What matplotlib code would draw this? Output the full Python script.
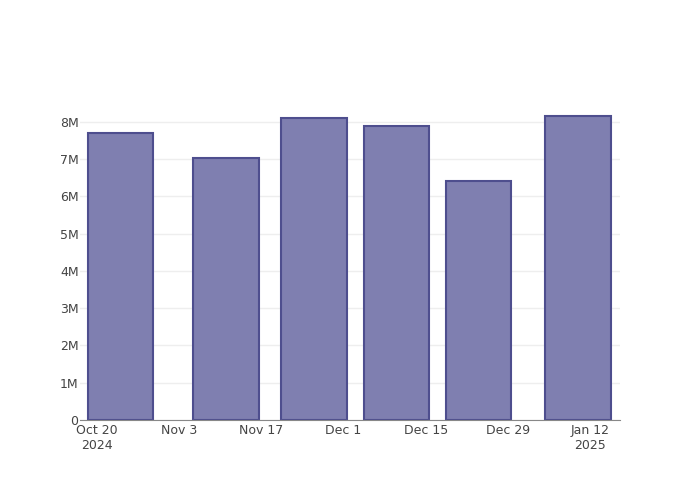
import datetime as dt
import matplotlib
matplotlib.use("Agg")
import matplotlib.pyplot as plt

dates = ["2024-10-24", "2024-11-11", "2024-11-26", "2024-12-10", "2024-12-24", "2025-01-10"]
values = [7.70e6, 7.03e6, 8.11e6, 7.89e6, 6.42e6, 8.16e6]
tick_dates = ["2024-10-20", "2024-11-03", "2024-11-17", "2024-12-01", "2024-12-15", "2024-12-29", "2025-01-12"]
tick_labels = ["Oct 20\n2024", "Nov 3", "Nov 17", "Dec 1", "Dec 15", "Dec 29", "Jan 12\n2025"]
y_ticks = [0, 1e6, 2e6, 3e6, 4e6, 5e6, 6e6, 7e6, 8e6]
y_labels = ["0", "1M", "2M", "3M", "4M", "5M", "6M", "7M", "8M"]

x = [dt.datetime.strptime(d, "%Y-%m-%d") for d in dates]
xt = [dt.datetime.strptime(d, "%Y-%m-%d") for d in tick_dates]

fig = plt.figure(figsize=(7, 5), dpi=100)
ax = fig.add_axes([80 / 700, 80 / 500, 540 / 700, 320 / 500])

ax.bar(x, values, width=11.2, color="#7f7fb0", edgecolor="#4e4e8e", linewidth=1.5, zorder=3)

ax.set_xlim(xt[0] - dt.timedelta(days=2.9), xt[0] + dt.timedelta(days=89.1))
ax.set_ylim(0, 8.59e6)
ax.set_xticks(xt)
ax.set_xticklabels(tick_labels)
ax.set_yticks(y_ticks)
ax.set_yticklabels(y_labels)

ax.grid(axis="y", color="#eeeeee", linewidth=1, zorder=0)
for s in ["top", "right", "left"]:
    ax.spines[s].set_visible(False)
ax.spines["bottom"].set_color("#888888")
ax.spines["bottom"].set_zorder(4)
ax.tick_params(length=0, labelsize=9, colors="#444444")
ax.tick_params(axis="y", pad=1)
ax.tick_params(axis="x", pad=3)

fig.savefig("out.png", dpi=100)
